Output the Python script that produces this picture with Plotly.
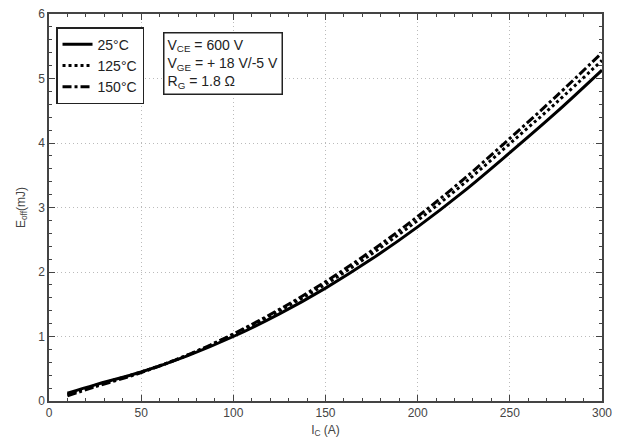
import plotly.graph_objects as go

ic = [10, 25, 50, 75, 100, 125, 150, 175, 200, 225, 250, 275, 300]
e_25 = [0.12, 0.25, 0.45, 0.70, 1.00, 1.35, 1.75, 2.20, 2.70, 3.25, 3.85, 4.47, 5.13]
e_125 = [0.10, 0.24, 0.45, 0.71, 1.03, 1.40, 1.81, 2.28, 2.80, 3.37, 3.99, 4.62, 5.28]
e_150 = [0.08, 0.22, 0.44, 0.71, 1.04, 1.42, 1.85, 2.33, 2.86, 3.44, 4.07, 4.72, 5.40]
series_names = ["25°C", "125°C", "150°C"]
x_ticks = [0, 50, 100, 150, 200, 250, 300]
y_ticks = [0, 1, 2, 3, 4, 5, 6]

fig = go.Figure()
styles = [("solid", 3), ("dot", 3), ("dashdot", 3)]
for name, ys, (dash, w) in zip(series_names, [e_25, e_125, e_150], styles):
    fig.add_trace(go.Scatter(x=ic, y=ys, mode="lines", name=name,
                             line=dict(color="black", width=w, dash=dash, shape="spline")))

axis_common = dict(showline=True, linecolor="#444", linewidth=1.5, mirror="allticks",
                   ticks="inside", ticklen=6, tickcolor="#444",
                   showgrid=True, gridcolor="#bbbbbb", griddash="1px,3px", gridwidth=1,
                   zeroline=False, tickfont=dict(size=12, color="#444"),
                   ticklabeloverflow="allow", automargin=False)

fig.update_xaxes(range=[0, 300], tickvals=x_ticks, title=dict(text="I<sub>C</sub> (A)", font=dict(size=12, color="#444"), standoff=6),
                 minor=dict(ticks="inside", dtick=10, ticklen=3, tickcolor="#444", showgrid=False), **axis_common)
fig.update_yaxes(range=[0, 6], tickvals=y_ticks, title=dict(text="E<sub>off</sub>(mJ)", font=dict(size=12, color="#444"), standoff=10),
                 minor=dict(ticks="inside", dtick=0.2, ticklen=3, tickcolor="#444", showgrid=False), **axis_common)

fig.update_layout(
    width=615, height=438,
    margin=dict(l=41, r=21, t=6, b=45),
    plot_bgcolor="white", paper_bgcolor="white",
    font=dict(family="Liberation Sans, Arial, sans-serif", color="#222"),
    legend=dict(x=0.0127, y=0.966, xanchor="left", yanchor="top",
                bordercolor="#222", borderwidth=1.5, bgcolor="white",
                font=dict(size=14, color="#222"), tracegroupgap=0, itemwidth=30),
    annotations=[dict(
        xref="paper", yref="paper", x=0.206, y=0.953, xanchor="left", yanchor="top",
        align="left", showarrow=False,
        text="V<sub>CE</sub> = 600 V<br>V<sub>GE</sub> = + 18 V/-5 V<br>R<sub>G</sub> = 1.8 Ω",
        font=dict(size=14, color="#222"),
        bordercolor="#222", borderwidth=1.5, borderpad=3, bgcolor="white")],
)

fig.write_html("out.html")
